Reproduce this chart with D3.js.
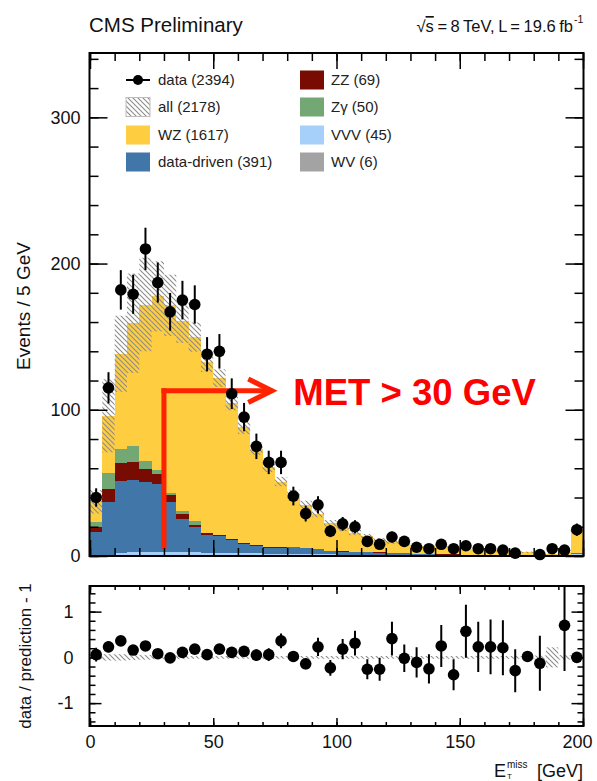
<!DOCTYPE html>
<html><head><meta charset="utf-8">
<script src="https://cdn.jsdelivr.net/npm/d3@7"></script>
<style>
body{margin:0;background:#fff;}
svg{display:block;font-family:"Liberation Sans",Arial,Helvetica,sans-serif;}
</style></head><body>
<svg id="c" width="597" height="781"></svg>
<script>
// ---------------- DATA ----------------
const binWidth = 5;
const binLow = [0,5,10,15,20,25,30,35,40,45,50,55,60,65,70,75,80,85,90,95,100,105,110,115,120,125,130,135,140,145,150,155,160,165,170,175,180,185,190,195];

const wz =         [13.5,39,65,84,107,119,128,130,126,117,107,93,79,66,55,45,36,29.6,24.3,19,15.9,13.1,10.7,8.6,7.4,7.5,5.5,5,5.1,5.4,4.1,3.4,3.4,2.8,2.2,1.9,0.7,1.1,2.0,15.9];
const dataDriven = [16,36,49,49.5,48,46.5,34.5,23,17.5,12.5,11.5,9,6.5,5,4,4,4.5,3.8,3.2,2,2,1.8,1.8,1.5,1.2,1.2,0.8,0.8,0.5,0.5,0.4,0.4,0.3,0.3,0.2,0.2,0.2,0.1,0.1,0.5];
const zz =         [3.5,9,12.5,12.3,8.7,7.3,4.6,3.5,1.6,0.9,0.8,0.6,0.5,0.4,0.3,0.3,0.3,0.2,0.2,0.2,0.1,0.1,0.1,0.1,0.1,0.1,0.1,0.1,0.1,0.1,0.1,0.1,0.1,0.1,0.1,0.1,0.1,0.1,0.1,0.1];
const zgamma =     [3.5,11,9.7,11,5.7,2.3,1.8,1.8,2.2,0.3,0.2,0,0,0,0,0,0,0,0,0,0,0,0,0,0,0,0,0,0,0,0,0,0,0,0,0,0,0,0,0];
const vvv =        [0.3,0.5,1.5,1.8,2,2,2,2,2,1.8,1.8,1.8,1.7,1.6,1.5,1.5,1.4,1.3,1.2,1.1,1.0,1.0,0.9,0.8,0.8,0.7,0.6,0.6,0.5,0.5,0.4,0.4,0.4,0.3,0.3,0.3,0.3,0.2,0.2,1.5];
const wv =         [0.2,0.4,0.6,0.6,0.6,0.5,0.5,0.4,0.4,0.3,0.3,0.2,0.2,0.2,0.1,0.1,0.1,0.1,0.1,0.1,0,0,0,0,0,0,0,0,0,0,0,0,0,0,0,0,0,0,0,0];
const bandErr =    [8,25,26,34,32,24,21,15,10,7,6,5,4.5,4,3.5,3.2,3,2.8,2.5,2.2,2,1.8,1.5,1.3,1.2,1.2,1,1,0.9,0.9,0.8,0.7,0.7,0.6,0.5,0.5,0.4,0.4,0.5,1.5];

const dataVals =   [40,115,182,179,210,187,167,175,172,138,140,111,95,75,64,64,41,29,35,17,22,20,10,8,13,10,6,5,8,5,7,5,5,4,2,null,1,5,4,18];
const dataErr =    [6.3,10.7,13.5,13.4,14.5,13.7,12.9,13.2,13.1,11.7,11.8,10.5,9.7,8.7,8,8,6.4,5.4,5.9,4.1,4.7,4.5,3.2,2.8,3.6,3.2,2.4,2.2,2.8,2.2,2.6,2.2,2.2,2,1.4,null,1,2.2,2,4.2];

const ratioVals =  [0.06,0.23,0.36,0.16,0.25,0.08,-0.01,0.11,0.18,0.06,0.18,0.11,0.13,0.05,0.06,0.36,0.02,-0.14,0.23,-0.23,0.18,0.31,-0.26,-0.26,0.41,-0.02,-0.11,-0.25,0.25,-0.38,0.57,0.23,0.23,0.21,-0.29,0.02,-0.13,null,0.7,0.0];
const ratioErr =   [0.15,0.12,0.1,0.09,0.09,0.08,0.08,0.09,0.09,0.09,0.1,0.11,0.12,0.13,0.14,0.16,0.1,0.12,0.2,0.17,0.22,0.27,0.22,0.25,0.37,0.3,0.33,0.32,0.46,0.34,0.58,0.55,0.6,0.6,0.47,0.08,0.6,null,1.0,0.12];
const ratioBand =  [0.06,0.07,0.07,0.06,0.05,0.04,0.04,0.04,0.03,0.03,0.03,0.03,0.03,0.03,0.03,0.03,0.03,0.03,0.03,0.03,0.03,0.03,0.03,0.03,0.03,0.03,0.03,0.03,0.03,0.03,0.03,0.03,0.03,0.03,0.03,0.03,0.04,0.22,0.05,0.05];

const mainYTicks = [0,100,200,300];
const xTicks = [0,50,100,150,200];
const ratioYTicks = [-1,0,1];

const legendLeft = [
  {label:"data (2394)", type:"data"},
  {label:"all (2178)", type:"hatch"},
  {label:"WZ (1617)", key:"WZ"},
  {label:"data-driven (391)", key:"dd"}
];
const legendRight = [
  {label:"ZZ (69)", key:"ZZ"},
  {label:"Z\u03b3 (50)", key:"Zg"},
  {label:"VVV (45)", key:"VVV"},
  {label:"WV (6)", key:"WV"}
];
const colors = {WZ:"#ffcd40", dd:"#4076a8", ZZ:"#780c02", Zg:"#73a774", VVV:"#a6d0fa", WV:"#a3a3a3"};
const metCut = 30;

// ---------------- LAYOUT ----------------
const svg = d3.select("#c");
const x = d3.scaleLinear().domain([0,200]).range([90,583]);
const yM = d3.scaleLinear().domain([0,344]).range([556,53]);
const yR = d3.scaleLinear().domain([-1.5,1.56]).range([726,586]);
const FL = 89.5, FR = 583.5;

const defs = svg.append("defs");
const pat = defs.append("pattern").attr("id","hatch").attr("patternUnits","userSpaceOnUse")
  .attr("width",5).attr("height",5);
pat.append("path").attr("d","M-1,-1 L6,6 M-1,4 L1,6 M4,-1 L6,1")
  .attr("stroke","#8c8c8c").attr("stroke-width",1.1);
defs.append("clipPath").attr("id","clipM").append("rect").attr("x",FL).attr("y",53).attr("width",FR-FL).attr("height",503);
defs.append("clipPath").attr("id","clipR").append("rect").attr("x",FL).attr("y",586).attr("width",FR-FL).attr("height",140);

// ---------------- STACK ----------------
const keys = ["WV","VVV","dd","ZZ","Zg","WZ"];
const table = binLow.map((b,i)=>({lo:b, WV:wv[i], VVV:vvv[i], dd:dataDriven[i], ZZ:zz[i], Zg:zgamma[i], WZ:wz[i]}));
const series = d3.stack().keys(keys)(table);
const gM = svg.append("g").attr("clip-path","url(#clipM)");
series.forEach(s=>{
  gM.append("g").attr("fill",colors[s.key]).attr("shape-rendering","crispEdges")
    .selectAll("rect").data(s).join("rect")
    .attr("x",d=>x(d.data.lo))
    .attr("width",d=>x(d.data.lo+binWidth)-x(d.data.lo))
    .attr("y",d=>yM(d[1]))
    .attr("height",d=>Math.max(0,yM(d[0])-yM(d[1])));
});
const totals = table.map(r=>d3.sum(keys,k=>r[k]));
gM.append("g").selectAll("rect").data(binLow).join("rect")
  .attr("x",(b)=>x(b)).attr("width",b=>x(b+binWidth)-x(b))
  .attr("y",(b,i)=>yM(totals[i]+bandErr[i]))
  .attr("height",(b,i)=>yM(Math.max(0,totals[i]-bandErr[i]))-yM(totals[i]+bandErr[i]))
  .attr("fill","url(#hatch)");

// ---------------- ANNOTATION ----------------
const red = "#ff2200";
const ann = svg.append("g");
ann.append("line").attr("x1",x(metCut)).attr("x2",x(metCut)).attr("y1",yM(5)).attr("y2",yM(113)-2.5)
  .attr("stroke",red).attr("stroke-width",5);
ann.append("line").attr("x1",x(metCut)-2.5).attr("x2",x(72)).attr("y1",yM(113)).attr("y2",yM(113))
  .attr("stroke",red).attr("stroke-width",5);
ann.append("polyline").attr("points",[[x(64.2),yM(121)],[x(73.8),yM(113)],[x(64.2),yM(105)]].map(p=>p.join(",")).join(" "))
  .attr("fill","none").attr("stroke",red).attr("stroke-width",5);
ann.append("text").attr("x",x(82.5)).attr("y",yM(103)).attr("fill","#ff0000")
  .attr("font-size","36.5px").attr("font-weight","bold").text("MET > 30 GeV");

// ---------------- DATA POINTS ----------------
const pts = binLow.map((b,i)=>({c:b+binWidth/2, v:dataVals[i], e:dataErr[i]})).filter(d=>d.v!==null);
const gD = svg.append("g");
gD.selectAll("line").data(pts).join("line")
  .attr("x1",d=>x(d.c)).attr("x2",d=>x(d.c)).attr("y1",d=>yM(d.v+d.e)).attr("y2",d=>yM(Math.max(0,d.v-d.e)))
  .attr("stroke","#000").attr("stroke-width",2);
gD.selectAll("circle").data(pts).join("circle")
  .attr("cx",d=>x(d.c)).attr("cy",d=>yM(d.v)).attr("r",5.8).attr("fill","#000");

// ---------------- RATIO ----------------
const gR = svg.append("g").attr("clip-path","url(#clipR)");
gR.append("g").selectAll("rect").data(binLow).join("rect")
  .attr("x",b=>x(b)).attr("width",b=>x(b+binWidth)-x(b))
  .attr("y",(b,i)=>yR(ratioBand[i])).attr("height",(b,i)=>yR(-ratioBand[i])-yR(ratioBand[i]))
  .attr("fill","url(#hatch)");
const rpts = binLow.map((b,i)=>({c:b+binWidth/2, v:ratioVals[i], e:ratioErr[i]})).filter(d=>d.v!==null);
gR.selectAll("line.err").data(rpts).join("line").attr("class","err")
  .attr("x1",d=>x(d.c)).attr("x2",d=>x(d.c)).attr("y1",d=>yR(d.v+d.e)).attr("y2",d=>yR(d.v-d.e))
  .attr("stroke","#000").attr("stroke-width",2);
gR.selectAll("circle").data(rpts).join("circle")
  .attr("cx",d=>x(d.c)).attr("cy",d=>yR(d.v)).attr("r",5.8).attr("fill","#000");

// ---------------- AXES ----------------
function styleAxis(g, fs){
  g.select(".domain").remove();
  g.selectAll(".tick line").attr("stroke","#000").attr("stroke-width",1.5);
  g.selectAll("text").attr("font-size",fs).attr("fill","#111")
   .attr("font-family",'"Liberation Sans",Arial,Helvetica,sans-serif');
}
function addAxis(axis, tx, ty, fs){
  const g = svg.append("g").attr("transform",`translate(${tx},${ty})`).call(axis);
  styleAxis(g, fs||"18px");
  return g;
}
const minorMainY = d3.range(0,344,20);
const minorX = d3.range(0,201,10);
const minorRY = d3.range(-1.4,1.56,0.2);
// main
addAxis(d3.axisLeft(yM).tickValues(mainYTicks).tickSize(-18).tickPadding(9).tickFormat(d=>String(d)), FL, 0);
addAxis(d3.axisLeft(yM).tickValues(minorMainY).tickSize(-9).tickFormat(""), FL, 0);
addAxis(d3.axisRight(yM).tickValues(mainYTicks).tickSize(-18).tickFormat(""), FR, 0);
addAxis(d3.axisRight(yM).tickValues(minorMainY).tickSize(-9).tickFormat(""), FR, 0);
addAxis(d3.axisTop(x).tickValues(xTicks).tickSize(-16).tickFormat(""), 0, 53);
addAxis(d3.axisTop(x).tickValues(minorX).tickSize(-8).tickFormat(""), 0, 53);
addAxis(d3.axisBottom(x).tickValues(xTicks).tickSize(-16).tickFormat(""), 0, 556);
addAxis(d3.axisBottom(x).tickValues(minorX).tickSize(-8).tickFormat(""), 0, 556);
// ratio
addAxis(d3.axisLeft(yR).tickValues(ratioYTicks).tickSize(-12).tickPadding(16).tickFormat(d=>String(d)), FL, 0);
addAxis(d3.axisLeft(yR).tickValues(minorRY).tickSize(-6).tickFormat(""), FL, 0);
addAxis(d3.axisRight(yR).tickValues(ratioYTicks).tickSize(-12).tickFormat(""), FR, 0);
addAxis(d3.axisRight(yR).tickValues(minorRY).tickSize(-6).tickFormat(""), FR, 0);
const xLab = addAxis(d3.axisBottom(x).tickValues(xTicks).tickSize(-8).tickPadding(9).tickFormat(d=>String(d)), 0, 726);
xLab.selectAll(".tick text").filter(d=>d===200).attr("dx","-6");
addAxis(d3.axisBottom(x).tickValues(minorX).tickSize(-4).tickFormat(""), 0, 726);
addAxis(d3.axisTop(x).tickValues(xTicks).tickSize(-8).tickFormat(""), 0, 586);
addAxis(d3.axisTop(x).tickValues(minorX).tickSize(-4).tickFormat(""), 0, 586);

// frames
svg.append("rect").attr("x",FL).attr("y",53).attr("width",FR-FL).attr("height",503)
  .attr("fill","none").attr("stroke","#000").attr("stroke-width",2);
svg.append("rect").attr("x",FL).attr("y",586).attr("width",FR-FL).attr("height",140)
  .attr("fill","none").attr("stroke","#000").attr("stroke-width",2);

// ---------------- TEXTS ----------------
svg.append("text").attr("x",89).attr("y",32).attr("font-size","20.5px").attr("fill","#111").text("CMS Preliminary");
const et = svg.append("text").attr("x",573).attr("y",32).attr("font-size","16.5px").attr("fill","#111")
  .attr("text-anchor","end").attr("word-spacing","-1px");
et.append("tspan").text("\u221A");
et.append("tspan").attr("text-decoration","overline").text("s");
et.append("tspan").text(" = 8 TeV, L = 19.6 fb");
svg.append("text").attr("x",574).attr("y",23).attr("font-size","10.5px").attr("fill","#111").text("-1");

svg.append("text").attr("transform","translate(30,306) rotate(-90)").attr("text-anchor","middle")
  .attr("font-size","19px").attr("fill","#111").text("Events / 5 GeV");
svg.append("text").attr("transform","translate(31,656) rotate(-90)").attr("text-anchor","middle")
  .attr("font-size","17px").attr("fill","#111").text("data / prediction - 1");

svg.append("text").attr("x",494).attr("y",777).attr("font-size","18px").attr("fill","#111").text("E");
svg.append("text").attr("x",507).attr("y",779).attr("font-size","8px").attr("fill","#111").text("T");
svg.append("text").attr("x",507).attr("y",768).attr("font-size","10px").attr("fill","#111").text("miss");
svg.append("text").attr("x",583).attr("y",777).attr("font-size","18px").attr("fill","#111").attr("text-anchor","end").text("[GeV]");

// ---------------- LEGEND ----------------
const rowY = [80,107,135,162];
const lg = svg.append("g");
function legendRow(item, i, bx, tx){
  const cy = rowY[i];
  if(item.type==="data"){
    lg.append("line").attr("x1",bx).attr("x2",bx+24).attr("y1",cy).attr("y2",cy).attr("stroke","#000").attr("stroke-width",2);
    lg.append("circle").attr("cx",bx+12).attr("cy",cy).attr("r",5).attr("fill","#000");
  } else if(item.type==="hatch"){
    lg.append("rect").attr("x",bx).attr("y",cy-9.5).attr("width",24).attr("height",19)
      .attr("fill","url(#hatch)").attr("stroke","#bdbdbd").attr("stroke-width",1);
  } else {
    lg.append("rect").attr("x",bx).attr("y",cy-9.5).attr("width",24).attr("height",19).attr("fill",colors[item.key]);
  }
  lg.append("text").attr("x",tx).attr("y",cy).attr("dy","0.36em").attr("font-size","15px").attr("fill","#222").text(item.label);
}
legendLeft.forEach((it,i)=>legendRow(it,i,126,158));
legendRight.forEach((it,i)=>legendRow(it,i,300,331));
</script>
</body></html>
